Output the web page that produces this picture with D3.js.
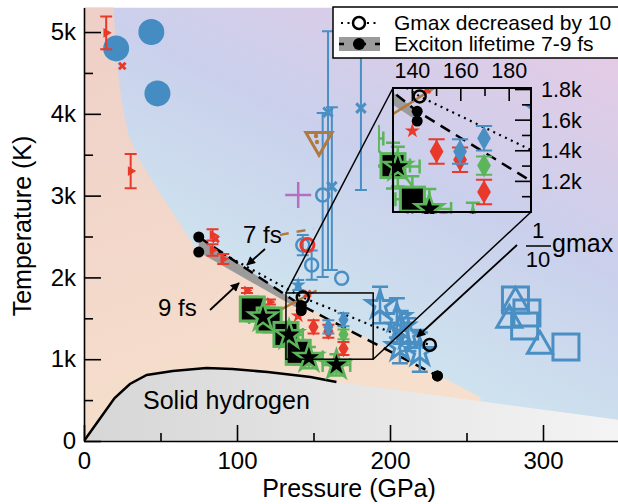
<!DOCTYPE html>
<html>
<head>
<meta charset="utf-8">
<script src="https://cdn.jsdelivr.net/npm/d3@7"></script>
<style>
  body { margin: 0; background: #fff; }
  svg { display: block; font-family: "Liberation Sans", Arial, Helvetica, sans-serif; }
</style>
</head>
<body>
<div id="chart"></div>
<script>
// ---------- data (pressure GPa, temperature K) ----------
const bigCircP = [21, 44, 48];
const bigCircT = [4800, 5000, 4250];

const redTriP = [14.5, 30.5, 84, 84, 91, 106.5, 121.5];
const redTriT = [4990, 3300, 2520, 2335, 2225, 1840, 1700];
const redTriErr = [200, 210, 70, 70, 60, 30, 30];

const redCrossP = [25, 86, 146];
const redCrossT = [4585, 2470, 1800];
const redStarP = [140];
const redStarT = [1530];
const redRingP = [146];
const redRingT = [2396];

const blueXP = [159.5, 162, 181];
const blueXT = [4020, 3110, 4070];
const blueXLo = [2090, 2090, 3070];
const blueXHi = [5010, 4080, 4840];

const blueRingP = [156, 143, 148.8, 168.4];
const blueRingT = [3007, 2396, 2152, 1989];
const blueRingLo = [2005, 2270, 1970, 1989];
const blueRingHi = [4010, 2520, 2330, 1989];

const blueSmallStarP = [140];
const blueSmallStarT = [1907];

const blueStarP = [193.5, 204.5, 207, 206.5, 212, 219.5];
const blueStarT = [1663, 1504, 1390, 1150, 1300, 1088];
const blueStarErr = [223, 240, 200, 200, 200, 240];

const diamP = [150, 159.7, 159.7, 169.6, 169.6, 169.6];
const diamT = [1395, 1342, 1395, 1482, 1303, 1131];
const diamErr = [80, 80, 80, 80, 60, 80];
const diamKind = ["red", "red", "blue", "blue", "green", "red"];

const blueSqP = [282, 289.5, 288, 315];
const blueSqT = [1724, 1565, 1406, 1149];
const blueTriP = [282, 278, 298];
const blueTriT = [1700, 1479, 1161];

const greenSqP = [110, 121, 132, 140];
const greenSqT = [1614, 1480, 1303, 1084];
const blackStarP = [117, 134, 147, 165];
const blackStarT = [1516, 1297, 1020, 930];

const brownTriP = [153.6], brownTriT = [3680];
const brownLineP = [128, 152], brownLineT = [1600, 1840];
const brownDashP = [128, 150], brownDashT = [2520, 2595];
const plusP = [140], plusT = [3007];

const excP = [75, 142, 231];
const exc7T = [2494, 1658, 795];
const exc9T = [2310, 1594, 795];

const gmaxP = [88, 143, 188, 226];
const gmaxT = [2320, 1755, 1413, 1174];

const solidP = [0, 20, 30, 41, 58, 80, 97, 120, 148, 165];
const solidT = [0, 525, 697, 807, 856, 892, 880, 843, 782, 721];

const pinkP = [0, 0, 19.2, 20.2, 21.8, 24.6, 28.9, 36.6, 47.5, 73.7, 259, 262];
const pinkT = [0, 5400, 5400, 5000, 4572, 4156, 3753, 3423, 3093, 2335, 538, 0];

const xMajor = [0, 100, 200, 300], xMinor = [50, 150, 250];
const yMajor = [0, 1000, 2000, 3000, 4000, 5000], yMinor = [500, 1500, 2500, 3500, 4500];
const yLabels = ["0", "1k", "2k", "3k", "4k", "5k"];
const insetXMajor = [140, 160, 180], insetXMinor = [150, 170];
const insetYMajor = [1200, 1400, 1600, 1800], insetYMinor = [1100, 1300, 1500, 1700];
const insetYLabels = ["1.2k", "1.4k", "1.6k", "1.8k"];

// ---------- setup ----------
const W = 618, H = 504;
const blue = "#4a8fc4", red = "#e8392b", green = "#5cb55a", brown = "#b07a3e";

const svg = d3.select("#chart").append("svg").attr("width", W).attr("height", H);
const x = d3.scaleLinear().domain([0, 350]).range([84, 619.5]);
const y = d3.scaleLinear().domain([0, 5300]).range([441, 7.5]);
const xi = d3.scaleLinear().domain([132, 189]).range([393, 531]);
const yi = d3.scaleLinear().domain([1000, 1810]).range([212, 88]);

const defs = svg.append("defs");
const gBlue = defs.append("linearGradient").attr("id", "gBlue")
    .attr("x1", 0.3).attr("y1", 0.8).attr("x2", 0.8).attr("y2", 0);
gBlue.append("stop").attr("offset", 0).attr("stop-color", "#cfeaef");
gBlue.append("stop").attr("offset", 0.55).attr("stop-color", "#cad0ec");
gBlue.append("stop").attr("offset", 1).attr("stop-color", "#e4cbe5");
const gPink = defs.append("linearGradient").attr("id", "gPink")
    .attr("x1", 0).attr("y1", 0).attr("x2", 0.3).attr("y2", 1);
gPink.append("stop").attr("offset", 0).attr("stop-color", "#eecfc8");
gPink.append("stop").attr("offset", 1).attr("stop-color", "#f6dfcc");
const gGrey = defs.append("linearGradient").attr("id", "gGrey")
    .attr("x1", 0).attr("y1", 0).attr("x2", 1).attr("y2", 0);
gGrey.append("stop").attr("offset", 0).attr("stop-color", "#d6d6d6");
gGrey.append("stop").attr("offset", 1).attr("stop-color", "#f4f4f4");

defs.append("clipPath").attr("id", "clipMain").append("rect")
    .attr("x", 84).attr("y", 7.5).attr("width", 536).attr("height", 433.5);
defs.append("clipPath").attr("id", "clipInset").append("rect")
    .attr("x", 393).attr("y", 88).attr("width", 138).attr("height", 124);
defs.append("clipPath").attr("id", "clipInsetMarks").append("rect")
    .attr("x", 378).attr("y", 88).attr("width", 153).attr("height", 126);
defs.append("marker").attr("id", "arr").attr("viewBox", "0 0 10 10")
    .attr("refX", 9).attr("refY", 5).attr("markerWidth", 11).attr("markerHeight", 9)
    .attr("markerUnits", "userSpaceOnUse").attr("orient", "auto")
    .append("path").attr("d", "M0,0L10,5L0,10z").attr("fill", "#000");

// ---------- background regions ----------
const bg = svg.append("g").attr("clip-path", "url(#clipMain)");
bg.append("rect").attr("x", 84).attr("y", 7.5).attr("width", 536).attr("height", 433.5)
    .attr("fill", "url(#gBlue)");
const poly = (P, T) => "M" + P.map((p, i) => [x(p), y(T[i])].join(",")).join("L") + "Z";
bg.append("path").attr("d", poly(pinkP, pinkT)).attr("fill", "url(#gPink)");
bg.append("path")
    .attr("d", poly(solidP.concat([350, 350]), solidT.concat([257, 0])))
    .attr("fill", "url(#gGrey)");
bg.append("path")
    .attr("d", d3.line()(solidP.map((p, i) => [x(p), y(solidT[i])])))
    .attr("fill", "none").attr("stroke", "#000").attr("stroke-width", 2.5);

// ---------- marks (drawn for main plot and inset) ----------
function drawMarks(gl, g, xs, ys, k) {
    const sym = (type, size) => d3.symbol().type(type).size(size)();
    const tr = (p, t) => `translate(${xs(p)},${ys(t)})`;
    const line = d3.line();
    const errV = (p, lo, hi, color, cap, w) => {
        const cx = xs(p);
        g.append("path")
            .attr("d", `M${cx},${ys(lo)}V${ys(hi)}M${cx - cap},${ys(lo)}H${cx + cap}M${cx - cap},${ys(hi)}H${cx + cap}`)
            .attr("fill", "none").attr("stroke", color).attr("stroke-width", w);
    };
    const errH = (p0, p1, t, color, cap, w) => {
        const cy = ys(t);
        g.append("path")
            .attr("d", `M${xs(p0)},${cy}H${xs(p1)}M${xs(p0)},${cy - cap}V${cy + cap}M${xs(p1)},${cy - cap}V${cy + cap}`)
            .attr("fill", "none").attr("stroke", color).attr("stroke-width", w);
    };

    // exciton band + 7 fs dashed line
    const band = excP.slice(0, 2).map((p, i) => [xs(p), ys(exc7T[i])])
        .concat(excP.slice(0, 2).map((p, i) => [xs(p), ys(exc9T[i])]).reverse());
    gl.append("path").attr("d", line(band) + "Z").attr("fill", "#9b9b9b");
    gl.append("path").attr("d", line(excP.map((p, i) => [xs(p), ys(exc7T[i])])))
        .attr("fill", "none").attr("stroke", "#000").attr("stroke-width", 2.5)
        .attr("stroke-dasharray", "11,7");

    // gmax / 10 dotted line
    gl.append("path").attr("d", line(gmaxP.map((p, i) => [xs(p), ys(gmaxT[i])])))
        .attr("fill", "none").attr("stroke", "#000").attr("stroke-width", 2.2)
        .attr("stroke-dasharray", "2,4.5");

    // brown lines
    gl.append("path").attr("d", line(brownLineP.map((p, i) => [xs(p), ys(brownLineT[i])])))
        .attr("stroke", brown).attr("stroke-width", 2.5);
    gl.append("path").attr("d", line(brownDashP.map((p, i) => [xs(p), ys(brownDashT[i])])))
        .attr("stroke", brown).attr("stroke-width", 2.5).attr("stroke-dasharray", "9,8");

    // blue error bars with x / rings
    blueXP.forEach((p, i) => errV(p, blueXLo[i], blueXHi[i], blue, 6, 2));
    blueRingP.forEach((p, i) => { if (blueRingLo[i] !== blueRingHi[i]) errV(p, blueRingLo[i], blueRingHi[i], blue, 6, 2); });
    blueXP.forEach((p, i) => g.append("path").attr("d", sym(d3.symbolTimes || d3.symbolCross, 60))
        .attr("transform", tr(p, blueXT[i])).attr("fill", "none").attr("stroke", blue).attr("stroke-width", 3));
    blueRingP.forEach((p, i) => g.append("circle").attr("cx", xs(p)).attr("cy", ys(blueRingT[i])).attr("r", 6.5)
        .attr("fill", "none").attr("stroke", blue).attr("stroke-width", 2.5));
    redRingP.forEach((p, i) => g.append("circle").attr("cx", xs(p)).attr("cy", ys(redRingT[i])).attr("r", 6.5)
        .attr("fill", "none").attr("stroke", red).attr("stroke-width", 3));

    // big blue circles
    bigCircP.forEach((p, i) => g.append("circle").attr("cx", xs(p)).attr("cy", ys(bigCircT[i])).attr("r", 13)
        .attr("fill", "#448cc2"));

    // brown inverted triangle and purple plus
    brownTriP.forEach((p, i) => {
        g.append("path").attr("d", sym(d3.symbolTriangle, 300))
            .attr("transform", tr(p, brownTriT[i]) + " rotate(180)")
            .attr("fill", "none").attr("stroke", brown).attr("stroke-width", 3);
        g.append("circle").attr("cx", xs(p) - 3).attr("cy", ys(brownTriT[i]) - 4).attr("r", 2.2).attr("fill", brown);
        g.append("circle").attr("cx", xs(p) - 2).attr("cy", ys(brownTriT[i]) + 2).attr("r", 2.2).attr("fill", brown);
    });
    plusP.forEach((p, i) => g.append("path")
        .attr("d", `M${xs(p) - 13},${ys(plusT[i])}h26M${xs(p)},${ys(plusT[i]) - 13}v26`)
        .attr("stroke", "#b46fc0").attr("stroke-width", 2.5));

    // red triangles with error bars
    redTriP.forEach((p, i) => {
        errV(p, redTriT[i] - redTriErr[i], redTriT[i] + redTriErr[i], red, 6, 2);
        g.append("path").attr("d", sym(d3.symbolTriangle, 40))
            .attr("transform", tr(p, redTriT[i]) + " rotate(90)").attr("fill", red);
    });
    redCrossP.forEach((p, i) => g.append("path").attr("d", sym(d3.symbolTimes || d3.symbolCross, 30))
        .attr("transform", tr(p, redCrossT[i])).attr("fill", "none").attr("stroke", red).attr("stroke-width", 3));
    redStarP.forEach((p, i) => g.append("path").attr("d", sym(d3.symbolStar, 70))
        .attr("transform", tr(p, redStarT[i])).attr("fill", red));

    // blue small star
    blueSmallStarP.forEach((p, i) => {
        errV(p, blueSmallStarT[i] - 60, blueSmallStarT[i] + 60, blue, 6, 2);
        g.append("path").attr("d", sym(d3.symbolStar, 70))
            .attr("transform", tr(p, blueSmallStarT[i])).attr("fill", blue);
    });

    // green squares and black stars
    greenSqP.forEach((p, i) => {
        errV(p, greenSqT[i] - 150, greenSqT[i] + 150, green, 7, 2.5);
        errH(p - 7, p + 7, greenSqT[i], green, 7, 2.5);
    });
    blackStarP.forEach((p, i) => {
        errV(p, blackStarT[i] - 130, blackStarT[i] + 130, green, 7, 2.5);
        errH(p - 9, p + 9, blackStarT[i], green, 7, 2.5);
    });
    g.append("path").attr("d", line(blackStarP.map((p, i) => [xs(p), ys(blackStarT[i])])))
        .attr("fill", "none").attr("stroke", green).attr("stroke-width", 2.5);
    greenSqP.forEach((p, i) => g.append("rect")
        .attr("x", xs(p) - 12).attr("y", ys(greenSqT[i]) - 12).attr("width", 24).attr("height", 24)
        .attr("fill", "#000").attr("stroke", green).attr("stroke-width", 3));
    blackStarP.forEach((p, i) => g.append("path").attr("d", sym(d3.symbolStar, 250))
        .attr("transform", tr(p, blackStarT[i])).attr("fill", "#000")
        .attr("stroke", green).attr("stroke-width", 2.5).attr("stroke-linejoin", "miter"));

    // diamonds
    const dCol = { red: red, blue: blue, green: green };
    diamP.forEach((p, i) => {
        errV(p, diamT[i] - diamErr[i], diamT[i] + diamErr[i], dCol[diamKind[i]], 6 * k, 2);
        g.append("path").attr("d", sym(d3.symbolDiamond, 90 * k * k))
            .attr("transform", tr(p, diamT[i])).attr("fill", dCol[diamKind[i]]);
    });

    // blue stars with error bars
    blueStarP.forEach((p, i) => {
        errV(p, blueStarT[i] - blueStarErr[i], blueStarT[i] + blueStarErr[i], blue, 8, 2.5);
        g.append("path").attr("d", sym(d3.symbolStar, 230))
            .attr("transform", tr(p, blueStarT[i])).attr("fill", "none")
            .attr("stroke", blue).attr("stroke-width", 3);
    });

    // blue open squares and triangles
    blueSqP.forEach((p, i) => g.append("rect")
        .attr("x", xs(p) - 13).attr("y", ys(blueSqT[i]) - 13).attr("width", 26).attr("height", 26)
        .attr("fill", "none").attr("stroke", blue).attr("stroke-width", 3));
    blueTriP.forEach((p, i) => g.append("path").attr("d", sym(d3.symbolTriangle, 270))
        .attr("transform", tr(p, blueTriT[i])).attr("fill", "none")
        .attr("stroke", blue).attr("stroke-width", 3));

    // exciton dots and gmax open circles
    excP.forEach((p, i) => {
        g.append("circle").attr("cx", xs(p)).attr("cy", ys(exc7T[i])).attr("r", 5.5).attr("fill", "#000");
        g.append("circle").attr("cx", xs(p)).attr("cy", ys(exc9T[i])).attr("r", 5.5).attr("fill", "#000");
    });
    [1, 3].forEach(i => g.append("circle").attr("cx", xs(gmaxP[i])).attr("cy", ys(gmaxT[i])).attr("r", 6)
        .attr("fill", "none").attr("stroke", "#000").attr("stroke-width", 2.5));
}

const main = svg.append("g").attr("clip-path", "url(#clipMain)");
drawMarks(main, main, x, y, 1);

// ---------- axes ----------
svg.append("g").attr("transform", "translate(0,441)")
    .call(d3.axisBottom(x).tickValues(xMajor).tickSize(-16).tickSizeOuter(0).tickPadding(11));
svg.append("g").attr("transform", "translate(0,441)")
    .call(d3.axisBottom(x).tickValues(xMinor).tickSize(-8).tickSizeOuter(0).tickFormat(""))
    .select(".domain").remove();
svg.append("g").attr("transform", "translate(84,0)")
    .call(d3.axisLeft(y).tickValues(yMajor).tickSize(-17).tickSizeOuter(0).tickPadding(8)
        .tickFormat((d, i) => yLabels[i]));
svg.append("g").attr("transform", "translate(84,0)")
    .call(d3.axisLeft(y).tickValues(yMinor).tickSize(-9).tickSizeOuter(0).tickFormat(""))
    .select(".domain").remove();
svg.selectAll(".domain, .tick line").attr("stroke", "#000").attr("stroke-width", 1.6);
svg.selectAll(".tick text").attr("font-size", 24).attr("font-family", null).attr("fill", "#000");

svg.append("text").attr("transform", "translate(31,226) rotate(-90)").attr("text-anchor", "middle")
    .attr("font-size", 25).text("Temperature (K)");
svg.append("text").attr("x", 349).attr("y", 497).attr("text-anchor", "middle")
    .attr("font-size", 25).text("Pressure (GPa)");

// ---------- annotations ----------
svg.append("text").attr("x", 143).attr("y", 409).attr("font-size", 25).text("Solid hydrogen");
svg.append("text").attr("x", 243).attr("y", 243).attr("font-size", 24).text("7 fs");
svg.append("text").attr("x", 158).attr("y", 316).attr("font-size", 24).text("9 fs");
svg.append("line").attr("x1", 265).attr("y1", 249).attr("x2", 247).attr("y2", 265)
    .attr("stroke", "#000").attr("stroke-width", 1.8).attr("marker-end", "url(#arr)");
svg.append("line").attr("x1", 210).attr("y1", 310).attr("x2", 239).attr("y2", 283)
    .attr("stroke", "#000").attr("stroke-width", 1.8).attr("marker-end", "url(#arr)");
svg.append("line").attr("x1", 517).attr("y1", 245).attr("x2", 417).attr("y2", 337)
    .attr("stroke", "#000").attr("stroke-width", 1.8).attr("marker-end", "url(#arr)");
svg.append("text").attr("x", 538).attr("y", 238).attr("font-size", 22).attr("text-anchor", "middle").text("1");
svg.append("line").attr("x1", 526).attr("x2", 551).attr("y1", 246).attr("y2", 246)
    .attr("stroke", "#000").attr("stroke-width", 1.5);
svg.append("text").attr("x", 538).attr("y", 267).attr("font-size", 22).attr("text-anchor", "middle").text("10");
svg.append("text").attr("x", 552).attr("y", 252).attr("font-size", 25).text("gmax");

// ---------- zoom box, connectors and inset ----------
svg.append("rect").attr("x", x(132)).attr("y", y(1810)).attr("width", x(189) - x(132))
    .attr("height", y(1000) - y(1810)).attr("fill", "none").attr("stroke", "#000").attr("stroke-width", 1.5);
svg.append("line").attr("x1", x(132)).attr("y1", y(1810)).attr("x2", 393).attr("y2", 88)
    .attr("stroke", "#000").attr("stroke-width", 1.5);
svg.append("line").attr("x1", x(189)).attr("y1", y(1000)).attr("x2", 531).attr("y2", 212)
    .attr("stroke", "#000").attr("stroke-width", 1.5);

const insetL = svg.append("g").attr("clip-path", "url(#clipInset)");
const insetM = svg.append("g").attr("clip-path", "url(#clipInsetMarks)");
drawMarks(insetL, insetM, xi, yi, 1.35);
svg.append("rect").attr("x", 393).attr("y", 88).attr("width", 138).attr("height", 124)
    .attr("fill", "none").attr("stroke", "#000").attr("stroke-width", 2);

const it = svg.append("g");
it.selectAll(".tx").data(insetXMajor.concat(insetXMinor)).enter().append("line")
    .attr("x1", d => xi(d)).attr("x2", d => xi(d)).attr("y1", 88).attr("y2", d => insetXMajor.includes(d) ? 101 : 96)
    .attr("stroke", "#000").attr("stroke-width", 1.6);
it.selectAll(".txl").data(insetXMajor).enter().append("text")
    .attr("x", d => xi(d)).attr("y", 78).attr("text-anchor", "middle").attr("font-size", 21.5).text(d => d);
it.selectAll(".ty").data(insetYMajor.concat(insetYMinor)).enter().append("line")
    .attr("x1", 531).attr("x2", d => insetYMajor.includes(d) ? 515 : 522).attr("y1", d => yi(d)).attr("y2", d => yi(d))
    .attr("stroke", "#000").attr("stroke-width", 1.6);
it.selectAll(".tyl").data(insetYMajor).enter().append("text")
    .attr("x", 541).attr("y", d => yi(d)).attr("dy", "0.35em").attr("font-size", 21.5)
    .text((d, i) => insetYLabels[i]);

// ---------- legend ----------
const lg = svg.append("g");
lg.append("rect").attr("x", 333).attr("y", 7).attr("width", 300).attr("height", 51)
    .attr("fill", "#fff").attr("stroke", "#000").attr("stroke-width", 1.5);
lg.append("line").attr("x1", 341).attr("x2", 378).attr("y1", 23).attr("y2", 23)
    .attr("stroke", "#000").attr("stroke-width", 2.2).attr("stroke-dasharray", "2,4.5");
lg.append("circle").attr("cx", 359).attr("cy", 23).attr("r", 6).attr("fill", "#fff")
    .attr("stroke", "#000").attr("stroke-width", 2.5);
lg.append("rect").attr("x", 339).attr("y", 37).attr("width", 41).attr("height", 14).attr("fill", "#9b9b9b");
lg.append("line").attr("x1", 339).attr("x2", 380).attr("y1", 44).attr("y2", 44)
    .attr("stroke", "#000").attr("stroke-width", 2.5).attr("stroke-dasharray", "5,9,13,9,5");
lg.append("circle").attr("cx", 359).attr("cy", 44).attr("r", 6).attr("fill", "#000");
lg.append("text").attr("x", 394).attr("y", 30).attr("font-size", 21).text("Gmax decreased by 10");
lg.append("text").attr("x", 394).attr("y", 51).attr("font-size", 21).text("Exciton lifetime 7-9 fs");
</script>
</body>
</html>
